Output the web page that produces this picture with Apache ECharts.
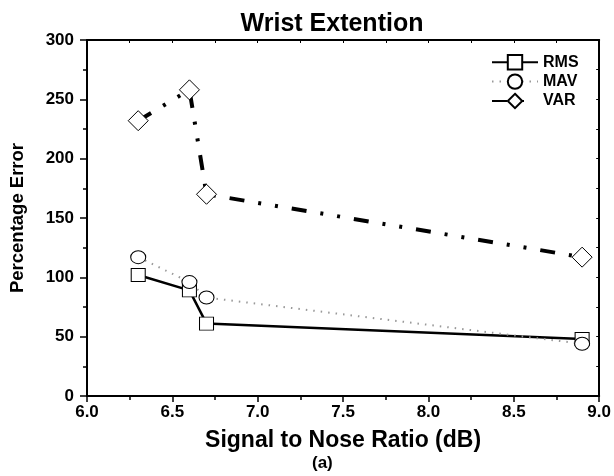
<!DOCTYPE html>
<html><head><meta charset="utf-8">
<script src="https://cdn.jsdelivr.net/npm/echarts@6/dist/echarts.min.js"></script>
<style>html,body{margin:0;padding:0;background:#fff}#c{width:614px;height:476px}</style>
</head><body><div id="c"></div>
<script>
const snr = [6.3, 6.6, 6.7, 8.9];
const rms = [102, 89, 61, 48];
const mav = [117, 96, 83, 44];
const varr = [232, 258, 170, 117];
const xTicks = [6.0, 6.5, 7.0, 7.5, 8.0, 8.5, 9.0];
const yTicks = [0, 50, 100, 150, 200, 250, 300];

const F = 'Liberation Sans, Arial, sans-serif';
const pairs = a => snr.map((x, i) => [x, a[i]]);
const chart = echarts.init(document.getElementById('c'));
const axisLine = {show: true, onZero: false, lineStyle: {color: '#000', width: 2}};
chart.setOption({
  animation: false,
  title: {text: 'Wrist Extention', left: 327, textAlign: 'center', top: 7,
    textStyle: {fontFamily: F, fontSize: 25, fontWeight: 'bold', color: '#000'}},
  graphic: [{type: 'text', left: 312, top: 455,
    style: {text: '(a)', font: 'bold 17px ' + F, fill: '#000'}}],
  grid: {left: 87, right: 13, top: 40, bottom: 80},
  legend: {left: 486, top: 49, orient: 'vertical', itemWidth: 46, itemHeight: 18, itemGap: 3,
    textStyle: {fontFamily: F, fontSize: 16, fontWeight: 'bold', color: '#000'},
    data: ['RMS', 'MAV', 'VAR']},
  xAxis: [{type: 'value', min: 6, max: 9, interval: 0.5, position: 'bottom',
    axisLine, splitLine: {show: false},
    axisTick: {show: true, inside: false, length: 6, lineStyle: {color: '#000', width: 1.5}},
    minorTick: {show: true, splitNumber: 2, length: 4, lineStyle: {color: '#000', width: 1.5}},
    axisLabel: {margin: 8, fontFamily: F, fontSize: 17, fontWeight: 'bold', color: '#000',
      formatter: v => v.toFixed(1)},
    name: 'Signal to Nose Ratio (dB)', nameLocation: 'middle', nameGap: 33,
    nameTextStyle: {fontFamily: F, fontSize: 23, fontWeight: 'bold', color: '#000'}},
   {type: 'value', min: 6, max: 9, interval: 0.25, position: 'top',
    axisLine, splitLine: {show: false}, axisLabel: {show: false},
    axisTick: {show: true, inside: true, length: 3, lineStyle: {color: '#000', width: 1}},
    minorTick: {show: false}}],
  yAxis: [{type: 'value', min: 0, max: 300, interval: 50, position: 'left',
    axisLine, splitLine: {show: false},
    axisTick: {show: true, inside: false, length: 7, lineStyle: {color: '#000', width: 1.5}},
    minorTick: {show: true, splitNumber: 2, length: 4, lineStyle: {color: '#000', width: 1.5}},
    axisLabel: {margin: 13, fontFamily: F, fontSize: 17, fontWeight: 'bold', color: '#000'},
    name: 'Percentage Error', nameLocation: 'middle', nameGap: 60,
    nameTextStyle: {fontFamily: F, fontSize: 18.5, fontWeight: 'bold', color: '#000'}},
   {type: 'value', min: 0, max: 300, interval: 25, position: 'right',
    axisLine, splitLine: {show: false}, axisLabel: {show: false},
    axisTick: {show: true, inside: true, length: 3, lineStyle: {color: '#000', width: 1}},
    minorTick: {show: false}}],
  series: [
    {name: 'RMS', type: 'line', data: pairs(rms), symbol: 'rect', symbolSize: [14, 13],
      lineStyle: {color: '#000', width: 2.5}, itemStyle: {color: '#fff', borderColor: '#000', borderWidth: 1},
      z: 2},
    {name: 'MAV', type: 'line', data: pairs(mav), symbol: 'circle', symbolSize: [15, 13],
      lineStyle: {color: '#999', width: 2, type: [1.5, 6]}, itemStyle: {color: '#fff', borderColor: '#000', borderWidth: 1},
      z: 3},
    {name: 'VAR', type: 'line', data: pairs(varr), symbol: 'diamond', symbolSize: [20, 20],
      lineStyle: {color: '#000', width: 4, type: [15, 14, 3, 14, 3, 14]}, itemStyle: {color: '#fff', borderColor: '#000', borderWidth: 1},
      z: 4}
  ]
});
</script></body></html>
